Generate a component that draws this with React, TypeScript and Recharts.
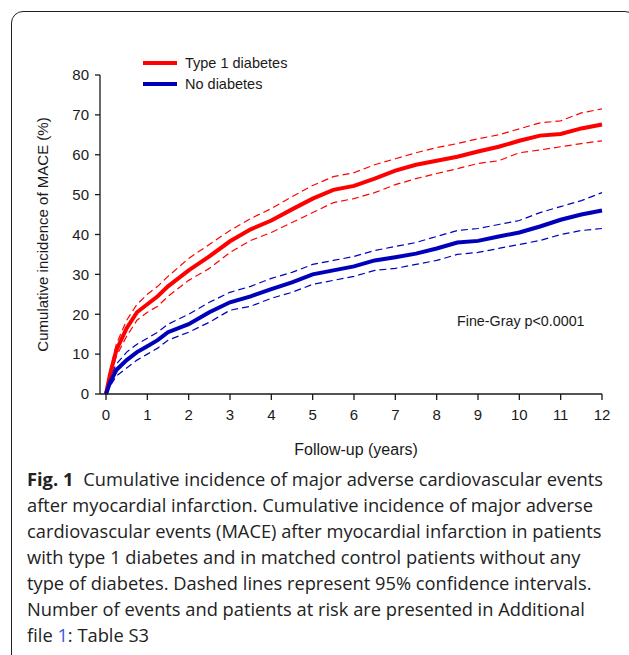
import { LineChart, Line, XAxis, YAxis, Legend } from "recharts";

const YEARS = [0, 0.1, 0.25, 0.5, 0.75, 1, 1.25, 1.5, 2, 2.5, 3, 3.5, 4, 4.5, 5, 5.5, 6, 6.5, 7, 7.5, 8, 8.5, 9, 9.5, 10, 10.5, 11, 11.5, 12];

// Type 1 diabetes: estimate and 95% CI
const T1D = [0, 5, 11, 16.5, 20.5, 22.5, 24.5, 27, 31, 34.5, 38.3, 41.3, 43.5, 46.3, 49, 51.2, 52.2, 54, 56, 57.5, 58.5, 59.5, 60.8, 62, 63.5, 64.8, 65.2, 66.6, 67.6];
const T1D_HI = [0, 6, 12.5, 18.5, 22.5, 25, 27, 29.5, 34, 37.5, 41, 44, 46.5, 49.5, 52.3, 54.5, 55.5, 57.5, 59, 60.5, 61.8, 62.8, 64, 65, 66.5, 68, 68.5, 70.5, 71.5];
const T1D_LO = [0, 4, 9.5, 14.5, 18.5, 20.5, 22, 24.5, 28.5, 31.5, 35.5, 38.5, 40.5, 43, 45.5, 48, 49, 50.5, 52.5, 54, 55.3, 56.5, 57.8, 58.5, 60.5, 61.2, 62, 62.8, 63.5];

// No diabetes: estimate and 95% CI
const NOD = [0, 3, 6, 8.5, 10.5, 12, 13.5, 15.5, 17.5, 20.5, 23, 24.5, 26.3, 28, 30, 31, 32, 33.5, 34.3, 35.2, 36.5, 38, 38.4, 39.5, 40.5, 42, 43.7, 45, 46];
const NOD_HI = [0, 4, 7.5, 10.5, 12.5, 14, 15.5, 17.5, 20, 23, 25.5, 27, 29, 30.5, 32.5, 33.5, 34.5, 36, 37, 38, 39.5, 41, 41.5, 42.5, 43.5, 45.5, 47, 48.5, 50.5];
const NOD_LO = [0, 2, 4.5, 6.5, 8.5, 10, 11.5, 13.5, 15.5, 18, 21, 22, 24, 25.5, 27.5, 28.5, 29.5, 31, 31.5, 32.5, 33.5, 35, 35.5, 36.5, 37.5, 38.5, 40, 41, 41.5];

const X_TICKS = [0, 1, 2, 3, 4, 5, 6, 7, 8, 9, 10, 11, 12];
const Y_TICKS = [0, 10, 20, 30, 40, 50, 60, 70, 80];

const RED = "#ff0000";
const BLUE = "#0000bb";
const INK = "#1a1a1a";
const FONT = "'Liberation Sans', Arial, sans-serif";

const data = YEARS.map((x, i) => ({
  x,
  t1d: T1D[i],
  t1dHi: T1D_HI[i],
  t1dLo: T1D_LO[i],
  nod: NOD[i],
  nodHi: NOD_HI[i],
  nodLo: NOD_LO[i],
}));

const CAPTION = [
  "after myocardial infarction. Cumulative incidence of major adverse",
  "cardiovascular events (MACE) after myocardial infarction in patients",
  "with type 1 diabetes and in matched control patients without any",
  "type of diabetes. Dashed lines represent 95% confidence intervals.",
  "Number of events and patients at risk are presented in Additional",
];

function LegendBox() {
  const items = [
    { name: "Type 1 diabetes", color: RED },
    { name: "No diabetes", color: BLUE },
  ];
  return (
    <div style={{ fontFamily: FONT, fontSize: 14.5, color: INK }}>
      {items.map(it => (
        <div key={it.name} style={{ display: "flex", alignItems: "center", height: 21 }}>
          <span style={{ display: "inline-block", width: 34, height: 4, background: it.color, marginRight: 8 }} />
          <span>{it.name}</span>
        </div>
      ))}
    </div>
  );
}

export default function App() {
  const tick = { fontSize: 15, fill: INK, fontFamily: FONT };
  const labelStyle = { fontSize: 16, fill: INK, fontFamily: FONT };
  const dash = { strokeWidth: 1.2, strokeDasharray: "7 4", dot: false, isAnimationActive: false, legendType: "none" as const };
  return (
    <div style={{ position: "absolute", left: 0, top: 0, width: 629, height: 655, overflow: "hidden", background: "#fff" }}>
      <div style={{ position: "absolute", left: 11, top: 11, width: 624, height: 700, border: "1px solid #222", borderRadius: "12px 12px 0 0" }} />
      <div style={{ position: "absolute", left: 0, top: 0 }}>
        <LineChart width={629} height={470} data={data} margin={{ top: 33, right: 27, bottom: 0, left: 0 }}>
          <XAxis
            dataKey="x"
            type="number"
            domain={[0, 12]}
            ticks={X_TICKS}
            padding={{ left: 6, right: 0 }}
            height={76}
            tickSize={6}
            tickMargin={9}
            tick={tick}
            axisLine={{ stroke: INK, strokeWidth: 1.3 }}
            tickLine={{ stroke: INK, strokeWidth: 1.3 }}
            label={{ value: "Follow-up (years)", position: "insideBottom", offset: 15, dx: 5, style: labelStyle }}
          />
          <YAxis
            type="number"
            domain={[0, 80]}
            ticks={Y_TICKS}
            width={100}
            tickSize={5}
            tickMargin={6}
            tick={tick}
            axisLine={{ stroke: INK, strokeWidth: 1.3 }}
            tickLine={{ stroke: INK, strokeWidth: 1.3 }}
            label={{ value: "Cumulative incidence of MACE (%)", angle: -90, position: "insideLeft", offset: 43, style: { ...labelStyle, fontSize: 15, textAnchor: "middle" } }}
          />
          <Legend
            verticalAlign="top"
            align="left"
            content={() => <LegendBox />}
            wrapperStyle={{ left: 143, top: 52, width: "auto" }}
          />
          <Line dataKey="t1dHi" stroke={RED} {...dash} />
          <Line dataKey="t1dLo" stroke={RED} {...dash} />
          <Line dataKey="nodHi" stroke={BLUE} {...dash} />
          <Line dataKey="nodLo" stroke={BLUE} {...dash} />
          <Line dataKey="t1d" name="Type 1 diabetes" stroke={RED} strokeWidth={4} dot={false} isAnimationActive={false} />
          <Line dataKey="nod" name="No diabetes" stroke={BLUE} strokeWidth={4} dot={false} isAnimationActive={false} />
        </LineChart>
      </div>
      <div style={{ position: "absolute", left: 457, top: 313, fontFamily: FONT, fontSize: 14.3, color: INK, whiteSpace: "nowrap" }}>
        Fine-Gray p&lt;0.0001
      </div>
      <div style={{ position: "absolute", left: 27, top: 466, fontFamily: "'Open Sans', sans-serif", fontSize: 18.3, lineHeight: "26px", color: "#222", whiteSpace: "nowrap" }}>
        <div>
          <b style={{ marginRight: 10 }}>Fig. 1</b>Cumulative incidence of major adverse cardiovascular events
        </div>
        {CAPTION.map(l => (
          <div key={l}>{l}</div>
        ))}
        <div>
          file <span style={{ color: "#3b5bd6" }}>1</span>: Table S3
        </div>
      </div>
    </div>
  );
}
